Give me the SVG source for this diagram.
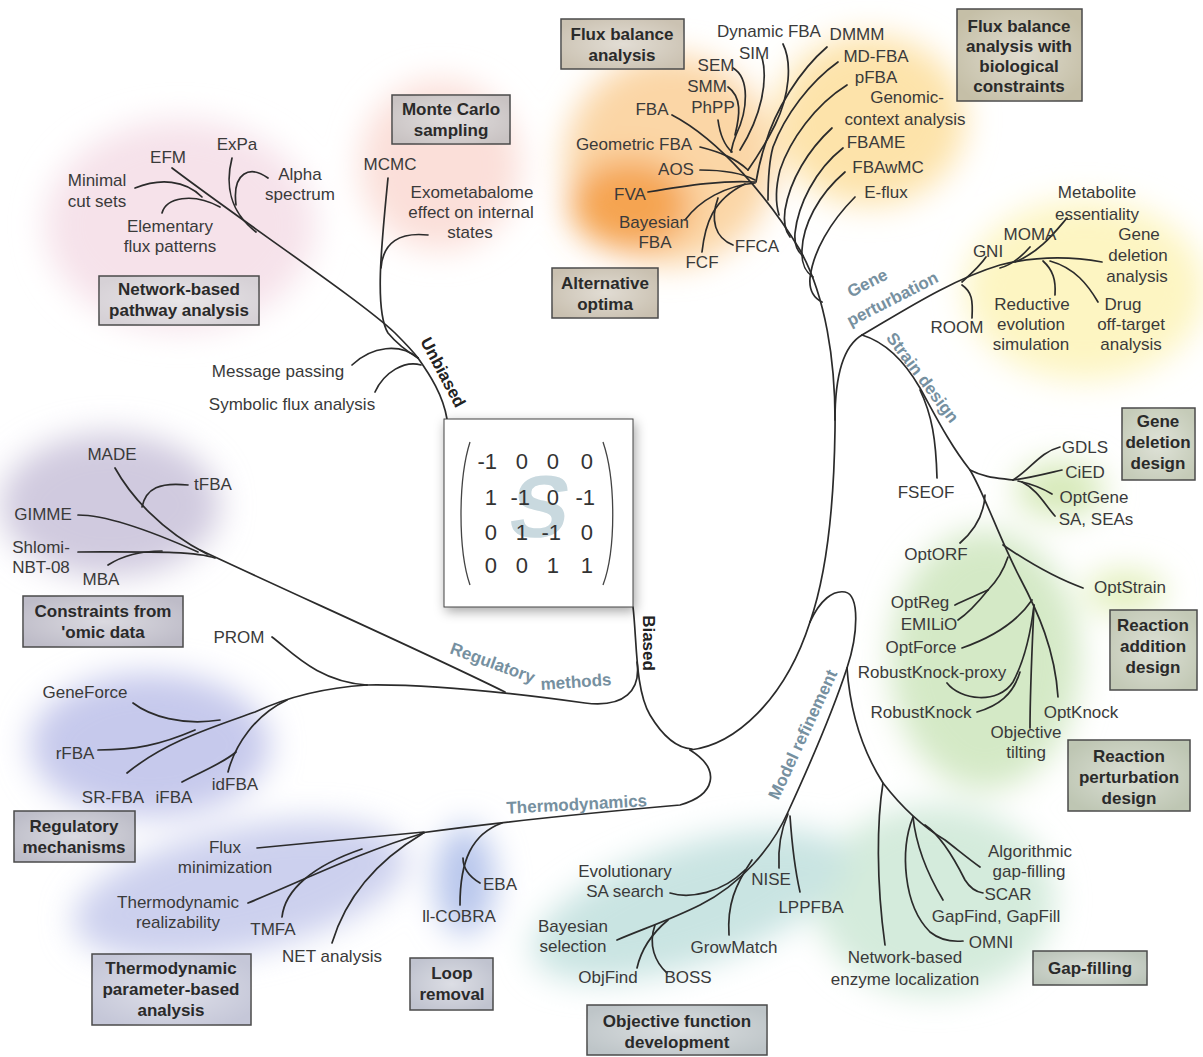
<svg xmlns="http://www.w3.org/2000/svg" width="1203" height="1057" viewBox="0 0 1203 1057">
<defs>
<filter id="blur" x="-60%" y="-60%" width="220%" height="220%"><feGaussianBlur stdDeviation="16"/></filter>
<filter id="shadow" x="-20%" y="-20%" width="150%" height="150%"><feDropShadow dx="2" dy="4" stdDeviation="6" flood-color="#000" flood-opacity="0.35"/></filter>
<radialGradient id="sheen" cx="50%" cy="50%" r="60%"><stop offset="0" stop-color="#fff" stop-opacity="0.45"/><stop offset="1" stop-color="#fff" stop-opacity="0"/></radialGradient>
</defs>
<style>
.t{font-family:'Liberation Sans',Arial,sans-serif;font-size:17px;fill:#3a3a3a;text-anchor:middle}
.bt{font-family:'Liberation Sans',Arial,sans-serif;font-size:17px;font-weight:bold;fill:#2a2a2a;text-anchor:middle}
.br{font-family:'Liberation Sans',Arial,sans-serif;font-size:17px;font-weight:bold;fill:#7690a0}
.bd{font-family:'Liberation Sans',Arial,sans-serif;font-size:17px;font-weight:bold;fill:#222;text-anchor:middle}
.bx{stroke:#4a4a4a;stroke-width:1.5}
.sh{fill:url(#sheen)}
#connectors path{fill:none;stroke:#2b2b2b;stroke-width:1.7;stroke-linecap:round}
.m{font-family:'Liberation Sans',Arial,sans-serif;font-size:22px;fill:#333;text-anchor:end}
.par{fill:none;stroke:#444;stroke-width:1.3}
</style>
<rect width="1203" height="1057" fill="#fff"/>
<g id="glows" filter="url(#blur)">
<ellipse cx="180" cy="225" rx="135" ry="105" fill="#f6e2ea"/>
<ellipse cx="440" cy="165" rx="80" ry="85" fill="#fbdfd9"/>
<ellipse cx="670" cy="160" rx="105" ry="105" fill="#fbd6a6"/>
<ellipse cx="630" cy="205" rx="60" ry="45" fill="#f5a451"/>
<ellipse cx="870" cy="120" rx="95" ry="85" fill="#fde3aa"/>
<ellipse cx="1085" cy="290" rx="120" ry="90" fill="#fdf5c2"/>
<ellipse cx="1060" cy="490" rx="45" ry="28" fill="#d6e9b8"/>
<ellipse cx="1125" cy="592" rx="40" ry="22" fill="#e2efbb"/>
<ellipse cx="985" cy="660" rx="95" ry="130" fill="#d4e9c6"/>
<ellipse cx="935" cy="900" rx="120" ry="95" fill="#d4ebdc"/>
<ellipse cx="690" cy="905" rx="165" ry="60" fill="#c9e4e2" transform="rotate(-18 690 905)"/>
<ellipse cx="465" cy="880" rx="30" ry="55" fill="#b8c6ec"/>
<ellipse cx="240" cy="890" rx="170" ry="62" fill="#ccd0ee" transform="rotate(-12 240 890)"/>
<ellipse cx="150" cy="745" rx="120" ry="72" fill="#c6c9ec"/>
<ellipse cx="110" cy="505" rx="110" ry="72" fill="#d0cadf"/>
</g>

<g id="connectors">
<path d="M172,168 C250,227 360,300 395,333 C405,343 412,350 418,358"/>
<path d="M135,188 C160,178 185,180 202,197"/>
<path d="M162,213 C166,198 192,192 220,207"/>
<path d="M232,158 C225,185 230,212 256,232"/>
<path d="M268,178 C250,165 232,172 236,205"/>
<path d="M388,178 C382,240 374,310 388,333 C398,345 408,352 418,358"/>
<path d="M428,235 C400,232 383,242 381,268"/>
<path d="M352,365 C372,346 400,343 418,358"/>
<path d="M375,392 C384,372 405,360 421,365"/>
<path d="M418,358 C430,375 443,395 447,419"/>
<path d="M633,607 C637,640 635,690 650,715 C662,735 675,748 692,749"/>
<path d="M367,685 C430,684 520,694 585,703 C625,708 641,690 637,662"/>
<path d="M200,550 C300,597 420,650 505,692"/>
<path d="M115,468 C130,495 160,530 207,554"/>
<path d="M188,485 C160,482 146,488 142,507"/>
<path d="M78,515 C110,515 160,535 198,552"/>
<path d="M78,552 C150,552 195,551 215,558"/>
<path d="M108,565 C122,556 138,551 162,551"/>
<path d="M272,637 C292,652 318,682 367,685"/>
<path d="M367,685 C320,688 285,698 255,712 C210,728 165,742 127,773"/>
<path d="M133,703 C150,716 182,726 220,720"/>
<path d="M98,750 C135,750 160,745 195,730"/>
<path d="M228,772 C235,745 255,715 287,700"/>
<path d="M182,782 C200,772 222,764 236,752"/>
<path d="M420,833 C500,822 600,812 680,805 C715,795 722,770 690,750"/>
<path d="M257,848 C320,842 380,836 424,832"/>
<path d="M248,903 C300,882 360,852 424,833"/>
<path d="M282,917 C285,890 312,866 362,849"/>
<path d="M332,943 C345,900 375,862 422,834"/>
<path d="M502,823 C472,834 460,860 460,905"/>
<path d="M480,883 C468,876 463,868 463,858"/>
<path d="M690,750 C735,745 785,700 810,622"/>
<path d="M672,115 C720,140 770,200 800,250 C825,295 836,360 835,430 C834,500 828,570 810,622"/>
<path d="M810,622 C820,600 833,590 845,592 C860,595 858,635 847,668"/>
<path d="M847,668 C830,720 805,775 788,812 C772,848 740,885 700,905 C670,920 640,930 617,940"/>
<path d="M788,814 C780,832 778,850 779,868"/>
<path d="M790,816 C792,845 795,870 800,892"/>
<path d="M670,893 C690,899 722,893 745,870"/>
<path d="M729,935 C727,905 735,885 752,860"/>
<path d="M637,968 C641,950 650,935 668,920"/>
<path d="M667,973 C655,962 648,945 655,925"/>
<path d="M847,668 C850,710 862,750 883,783 C900,805 920,825 945,840 C958,850 970,860 980,867"/>
<path d="M883,783 C877,820 876,880 885,945"/>
<path d="M913,817 C900,850 903,905 930,932 C940,940 952,942 963,941"/>
<path d="M913,817 C916,845 928,875 943,900"/>
<path d="M925,825 C940,835 955,860 965,880 C970,888 976,892 983,893"/>
<path d="M835,420 C835,370 845,345 862,335"/>
<path d="M862,335 C900,313 950,280 1000,265 C1040,255 1075,257 1102,262"/>
<path d="M986,257 C980,266 972,273 962,282"/>
<path d="M1030,247 C1022,256 1012,265 1000,268"/>
<path d="M1067,218 C1055,232 1040,252 1015,262"/>
<path d="M972,318 C973,300 972,292 962,285"/>
<path d="M1055,295 C1056,280 1053,270 1043,261"/>
<path d="M1098,302 C1088,285 1075,268 1050,261"/>
<path d="M862,335 C885,342 905,362 920,388 C935,415 950,445 970,470 C985,495 1000,540 1020,578 C1038,612 1055,650 1058,697"/>
<path d="M970,470 C985,478 1000,478 1013,480"/>
<path d="M1013,480 C1030,470 1040,452 1060,447"/>
<path d="M1013,480 C1030,478 1045,474 1062,470"/>
<path d="M1018,481 C1032,484 1042,488 1052,494"/>
<path d="M1022,482 C1038,490 1045,505 1055,516"/>
<path d="M920,390 C932,415 936,440 937,478"/>
<path d="M985,495 C984,515 975,530 960,543"/>
<path d="M1003,545 C1025,560 1055,578 1083,588"/>
<path d="M1008,557 C1003,572 996,582 988,590"/>
<path d="M988,590 C975,596 965,600 955,605"/>
<path d="M988,590 C980,600 970,612 958,620"/>
<path d="M962,648 C985,640 1015,625 1032,600"/>
<path d="M947,683 C960,700 998,705 1013,682 C1022,665 1030,640 1034,605"/>
<path d="M977,712 C998,706 1013,695 1020,672"/>
<path d="M1030,728 C1030,690 1032,650 1034,605"/>
<path d="M783,44 C792,62 790,95 775,125 C765,145 755,160 748,170"/>
<path d="M827,47 C800,70 775,110 765,145 C760,160 758,170 756,182"/>
<path d="M838,62 C810,82 785,115 773,147 C768,165 768,185 768,200"/>
<path d="M847,85 C815,105 790,140 780,170 C775,190 776,205 779,215"/>
<path d="M832,128 C808,150 790,180 785,210 C783,225 786,232 790,237"/>
<path d="M843,148 C815,170 798,205 795,233 C794,245 798,252 803,256"/>
<path d="M845,172 C818,195 803,225 802,250 C801,265 806,272 813,277"/>
<path d="M855,197 C830,222 813,252 810,278 C809,290 814,298 822,302"/>
<path d="M762,57 C768,80 762,115 740,150"/>
<path d="M733,68 C750,78 748,110 736,135 C733,142 732,147 731,152"/>
<path d="M728,87 C742,97 740,115 735,135"/>
<path d="M718,120 C720,135 724,145 732,152"/>
<path d="M700,147 C720,152 735,158 748,170"/>
<path d="M700,170 C720,170 740,172 755,180"/>
<path d="M648,192 C690,185 725,180 755,182"/>
<path d="M685,220 C700,200 725,186 755,183"/>
<path d="M702,252 C705,225 712,200 745,184"/>
<path d="M733,245 C715,238 710,220 718,198"/>
</g>

<g id="matrix">
<rect x="444" y="419" width="189" height="188" fill="#fff" stroke="#444" stroke-width="1" filter="url(#shadow)"/>
<text x="0" y="0" transform="translate(535,537) skewX(-10)" font-family="'Liberation Sans',Arial,sans-serif" font-size="88" font-weight="bold" fill="#c9d9df" text-anchor="middle">S</text>
<path class="par" d="M470,442 C458,480 458,550 470,585"/>
<path class="par" d="M603,442 C616,480 616,550 603,585"/>
<text class="m" x="497" y="469">-1</text><text class="m" x="528" y="469">0</text><text class="m" x="559" y="469">0</text><text class="m" x="593" y="469">0</text>
<text class="m" x="497" y="505">1</text><text class="m" x="530" y="505">-1</text><text class="m" x="559" y="505">0</text><text class="m" x="595" y="505">-1</text>
<text class="m" x="497" y="540">0</text><text class="m" x="528" y="540">1</text><text class="m" x="561" y="540">-1</text><text class="m" x="593" y="540">0</text>
<text class="m" x="497" y="573">0</text><text class="m" x="528" y="573">0</text><text class="m" x="559" y="573">1</text><text class="m" x="593" y="573">1</text>
</g>

<g id="branch-labels">
<text class="bd" transform="translate(438,375) rotate(62)">Unbiased</text>
<text class="bd" transform="translate(643,643) rotate(90)">Biased</text>
<text class="br" transform="translate(449,653) rotate(20)">Regulatory</text>
<text class="br" transform="translate(541,690) rotate(-4)">methods</text>
<text class="br" text-anchor="middle" transform="translate(577,810) rotate(-3)">Thermodynamics</text>
<text class="br" text-anchor="middle" transform="translate(808,737) rotate(-65)">Model refinement</text>
<text class="br" text-anchor="middle" transform="translate(870,288) rotate(-27)">Gene</text>
<text class="br" text-anchor="middle" transform="translate(895,304) rotate(-27)">perturbation</text>
<text class="br" text-anchor="middle" transform="translate(918,381) rotate(53)">Strain design</text>
</g>

<g id="box-network"><rect class="bx" x="99" y="276" width="160" height="49" fill="#d6d1d6"/><rect class="sh" x="99" y="276" width="160" height="49"/><text class="bt" x="179" y="295">Network-based</text><text class="bt" x="179" y="316">pathway analysis</text></g>
<g id="box-montecarlo"><rect class="bx" x="392" y="95" width="118" height="49" fill="#c9c3c3"/><rect class="sh" x="392" y="95" width="118" height="49"/><text class="bt" x="451" y="115">Monte Carlo</text><text class="bt" x="451" y="136">sampling</text></g>
<g id="box-fba"><rect class="bx" x="561" y="19" width="123" height="50" fill="#cbc2b2"/><rect class="sh" x="561" y="19" width="123" height="50"/><text class="bt" x="622" y="40">Flux balance</text><text class="bt" x="622" y="61">analysis</text></g>
<g id="box-altopt"><rect class="bx" x="552" y="268" width="106" height="50" fill="#c9c0b0"/><rect class="sh" x="552" y="268" width="106" height="50"/><text class="bt" x="605" y="289">Alternative</text><text class="bt" x="605" y="310">optima</text></g>
<g id="box-fbabio"><rect class="bx" x="957" y="9" width="125" height="92" fill="#c5bfa7"/><rect class="sh" x="957" y="9" width="125" height="92"/><text class="bt" x="1019" y="32">Flux balance</text><text class="bt" x="1019" y="52">analysis with</text><text class="bt" x="1019" y="72">biological</text><text class="bt" x="1019" y="92">constraints</text></g>
<g id="box-genedel"><rect class="bx" x="1122" y="408" width="73" height="72" fill="#c5cbb8"/><rect class="sh" x="1122" y="408" width="73" height="72"/><text class="bt" x="1158" y="427">Gene</text><text class="bt" x="1158" y="448">deletion</text><text class="bt" x="1158" y="469">design</text></g>
<g id="box-rxnadd"><rect class="bx" x="1110" y="610" width="87" height="80" fill="#c3c9b6"/><rect class="sh" x="1110" y="610" width="87" height="80"/><text class="bt" x="1153" y="631">Reaction</text><text class="bt" x="1153" y="652">addition</text><text class="bt" x="1153" y="673">design</text></g>
<g id="box-rxnpert"><rect class="bx" x="1068" y="740" width="122" height="71" fill="#bec6b3"/><rect class="sh" x="1068" y="740" width="122" height="71"/><text class="bt" x="1129" y="762">Reaction</text><text class="bt" x="1129" y="783">perturbation</text><text class="bt" x="1129" y="804">design</text></g>
<g id="box-gapfill"><rect class="bx" x="1033" y="951" width="114" height="34" fill="#bcc5ba"/><rect class="sh" x="1033" y="951" width="114" height="34"/><text class="bt" x="1090" y="974">Gap-filling</text></g>
<g id="box-objfun"><rect class="bx" x="587" y="1005" width="180" height="50" fill="#bec5c8"/><rect class="sh" x="587" y="1005" width="180" height="50"/><text class="bt" x="677" y="1027">Objective function</text><text class="bt" x="677" y="1048">development</text></g>
<g id="box-loop"><rect class="bx" x="410" y="958" width="83" height="52" fill="#c0c3cf"/><rect class="sh" x="410" y="958" width="83" height="52"/><text class="bt" x="452" y="979">Loop</text><text class="bt" x="452" y="1000">removal</text></g>
<g id="box-thermo"><rect class="bx" x="92" y="954" width="159" height="71" fill="#c5c7d8"/><rect class="sh" x="92" y="954" width="159" height="71"/><text class="bt" x="171" y="974">Thermodynamic</text><text class="bt" x="171" y="995">parameter-based</text><text class="bt" x="171" y="1016">analysis</text></g>
<g id="box-regmech"><rect class="bx" x="14" y="811" width="121" height="51" fill="#bdbdc8"/><rect class="sh" x="14" y="811" width="121" height="51"/><text class="bt" x="74" y="832">Regulatory</text><text class="bt" x="74" y="853">mechanisms</text></g>
<g id="box-omic"><rect class="bx" x="23" y="596" width="160" height="51" fill="#bebcc8"/><rect class="sh" x="23" y="596" width="160" height="51"/><text class="bt" x="103" y="617">Constraints from</text><text class="bt" x="103" y="638">'omic data</text></g>

<g id="labels">
<g id="n-efm"><text class="t" x="168" y="163">EFM</text></g>
<g id="n-expa"><text class="t" x="237" y="150">ExPa</text></g>
<g id="n-mcs"><text class="t" x="97" y="186">Minimal</text><text class="t" x="97" y="207">cut sets</text></g>
<g id="n-alpha"><text class="t" x="300" y="180">Alpha</text><text class="t" x="300" y="200">spectrum</text></g>
<g id="n-efp"><text class="t" x="170" y="232">Elementary</text><text class="t" x="170" y="252">flux patterns</text></g>
<g id="n-mcmc"><text class="t" x="390" y="170">MCMC</text></g>
<g id="n-exo"><text class="t" x="472" y="198">Exometabalome</text><text class="t" x="471" y="218">effect on internal</text><text class="t" x="470" y="238">states</text></g>
<g id="n-msg"><text class="t" x="278" y="377">Message passing</text></g>
<g id="n-sym"><text class="t" x="292" y="410">Symbolic flux analysis</text></g>
<g id="n-dfba"><text class="t" x="769" y="37">Dynamic FBA</text></g>
<g id="n-sim"><text class="t" x="754" y="59">SIM</text></g>
<g id="n-sem"><text class="t" x="716" y="71">SEM</text></g>
<g id="n-smm"><text class="t" x="707" y="92">SMM</text></g>
<g id="n-phpp"><text class="t" x="713" y="113">PhPP</text></g>
<g id="n-fba"><text class="t" x="652" y="115">FBA</text></g>
<g id="n-gfba"><text class="t" x="634" y="150">Geometric FBA</text></g>
<g id="n-aos"><text class="t" x="676" y="175">AOS</text></g>
<g id="n-fva"><text class="t" x="630" y="200">FVA</text></g>
<g id="n-bfba"><text class="t" x="654" y="228">Bayesian</text><text class="t" x="655" y="248">FBA</text></g>
<g id="n-fcf"><text class="t" x="702" y="268">FCF</text></g>
<g id="n-ffca"><text class="t" x="757" y="252">FFCA</text></g>
<g id="n-dmmm"><text class="t" x="857" y="40">DMMM</text></g>
<g id="n-mdfba"><text class="t" x="876" y="62">MD-FBA</text></g>
<g id="n-pfba"><text class="t" x="876" y="83">pFBA</text></g>
<g id="n-gca"><text class="t" x="907" y="103">Genomic-</text><text class="t" x="905" y="125">context analysis</text></g>
<g id="n-fbame"><text class="t" x="876" y="148">FBAME</text></g>
<g id="n-fbawmc"><text class="t" x="888" y="173">FBAwMC</text></g>
<g id="n-eflux"><text class="t" x="886" y="198">E-flux</text></g>
<g id="n-metess"><text class="t" x="1097" y="198">Metabolite</text><text class="t" x="1097" y="220">essentiality</text></g>
<g id="n-moma"><text class="t" x="1030" y="240">MOMA</text></g>
<g id="n-gni"><text class="t" x="988" y="257">GNI</text></g>
<g id="n-gda"><text class="t" x="1139" y="240">Gene</text><text class="t" x="1138" y="261">deletion</text><text class="t" x="1137" y="282">analysis</text></g>
<g id="n-drug"><text class="t" x="1123" y="310">Drug</text><text class="t" x="1131" y="330">off-target</text><text class="t" x="1131" y="350">analysis</text></g>
<g id="n-res"><text class="t" x="1032" y="310">Reductive</text><text class="t" x="1031" y="330">evolution</text><text class="t" x="1031" y="350">simulation</text></g>
<g id="n-room"><text class="t" x="957" y="333">ROOM</text></g>
<g id="n-gdls"><text class="t" x="1085" y="453">GDLS</text></g>
<g id="n-cied"><text class="t" x="1085" y="478">CiED</text></g>
<g id="n-optgene"><text class="t" x="1094" y="503">OptGene</text></g>
<g id="n-sa"><text class="t" x="1096" y="525">SA, SEAs</text></g>
<g id="n-fseof"><text class="t" x="926" y="498">FSEOF</text></g>
<g id="n-optorf"><text class="t" x="936" y="560">OptORF</text></g>
<g id="n-optstrain"><text class="t" x="1130" y="593">OptStrain</text></g>
<g id="n-optreg"><text class="t" x="920" y="608">OptReg</text></g>
<g id="n-emilio"><text class="t" x="929" y="630">EMILiO</text></g>
<g id="n-optforce"><text class="t" x="921" y="653">OptForce</text></g>
<g id="n-rkp"><text class="t" x="932" y="678">RobustKnock-proxy</text></g>
<g id="n-rk"><text class="t" x="921" y="718">RobustKnock</text></g>
<g id="n-optknock"><text class="t" x="1081" y="718">OptKnock</text></g>
<g id="n-objtilt"><text class="t" x="1026" y="738">Objective</text><text class="t" x="1026" y="758">tilting</text></g>
<g id="n-agf"><text class="t" x="1030" y="857">Algorithmic</text><text class="t" x="1029" y="877">gap-filling</text></g>
<g id="n-scar"><text class="t" x="1008" y="900">SCAR</text></g>
<g id="n-gapfind"><text class="t" x="996" y="922">GapFind, GapFill</text></g>
<g id="n-omni"><text class="t" x="991" y="948">OMNI</text></g>
<g id="n-nbel"><text class="t" x="905" y="963">Network-based</text><text class="t" x="905" y="985">enzyme localization</text></g>
<g id="n-lppfba"><text class="t" x="811" y="913">LPPFBA</text></g>
<g id="n-nise"><text class="t" x="771" y="885">NISE</text></g>
<g id="n-evo"><text class="t" x="625" y="877">Evolutionary</text><text class="t" x="625" y="897">SA search</text></g>
<g id="n-bsel"><text class="t" x="573" y="932">Bayesian</text><text class="t" x="573" y="952">selection</text></g>
<g id="n-objfind"><text class="t" x="608" y="983">ObjFind</text></g>
<g id="n-boss"><text class="t" x="688" y="983">BOSS</text></g>
<g id="n-growmatch"><text class="t" x="734" y="953">GrowMatch</text></g>
<g id="n-eba"><text class="t" x="500" y="890">EBA</text></g>
<g id="n-llcobra"><text class="t" x="459" y="922">ll-COBRA</text></g>
<g id="n-fluxmin"><text class="t" x="225" y="853">Flux</text><text class="t" x="225" y="873">minimization</text></g>
<g id="n-thermreal"><text class="t" x="178" y="908">Thermodynamic</text><text class="t" x="178" y="928">realizability</text></g>
<g id="n-tmfa"><text class="t" x="273" y="935">TMFA</text></g>
<g id="n-net"><text class="t" x="332" y="962">NET analysis</text></g>
<g id="n-rfba"><text class="t" x="75" y="759">rFBA</text></g>
<g id="n-srfba"><text class="t" x="113" y="803">SR-FBA</text></g>
<g id="n-ifba"><text class="t" x="174" y="803">iFBA</text></g>
<g id="n-idfba"><text class="t" x="235" y="790">idFBA</text></g>
<g id="n-geneforce"><text class="t" x="85" y="698">GeneForce</text></g>
<g id="n-prom"><text class="t" x="239" y="643">PROM</text></g>
<g id="n-made"><text class="t" x="112" y="460">MADE</text></g>
<g id="n-tfba"><text class="t" x="213" y="490">tFBA</text></g>
<g id="n-gimme"><text class="t" x="43" y="520">GIMME</text></g>
<g id="n-shlomi"><text class="t" x="41" y="553">Shlomi-</text><text class="t" x="41" y="573">NBT-08</text></g>
<g id="n-mba"><text class="t" x="101" y="585">MBA</text></g>
</g>
</svg>
